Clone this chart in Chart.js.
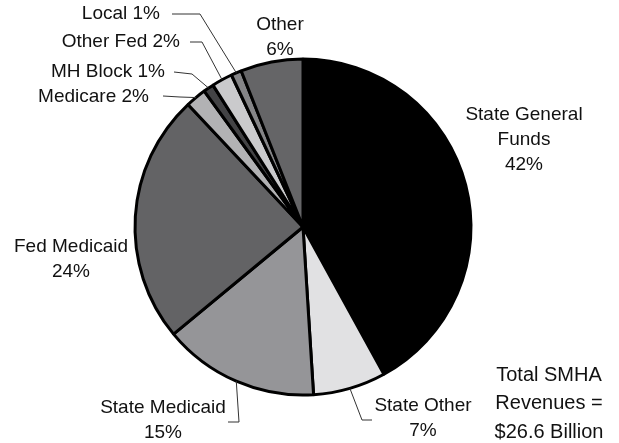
<!DOCTYPE html>
<html>
<head>
<meta charset="utf-8">
<script src="https://cdn.jsdelivr.net/npm/chart.js@4.4.1/dist/chart.umd.min.js"></script>
<style>
  html, body { margin: 0; padding: 0; background: #fff; }
  #wrap { width: 619px; height: 443px; position: relative; }
</style>
</head>
<body>
<div id="wrap"><canvas id="chart-smha-revenues"></canvas></div>
<script>
// SMHA revenue sources, percent of total, clockwise from 12 o'clock
var sources = ['State General Funds', 'State Other', 'State Medicaid', 'Fed Medicaid',
               'Medicare', 'MH Block', 'Other Fed', 'Local', 'Other'];
var shares = [42, 7, 15, 24, 2, 1, 2, 1, 6];
// how each name is printed (\n = line break)
var names = ['State General\nFunds', 'State Other', 'State Medicaid', 'Fed Medicaid',
             'Medicare', 'MH Block', 'Other Fed', 'Local', 'Other'];
var totalNote = ['Total SMHA', 'Revenues =', '$26.6 Billion'];

var fills = ['#000000', '#e1e1e3', '#959598', '#636365', '#b2b2b4',
             '#434345', '#cacacc', '#858587', '#656567'];

// label placement: stacked labels are centred with the percent on its own line,
// inline labels are right aligned; leader = elbow points from text towards the slice
var callouts = [
    { x: 524, y: 115, mode: 'stack' },
    { x: 423, y: 406, mode: 'stack', leader: [[372, 420], [362, 420]] },
    { x: 163, y: 408, mode: 'stack', leader: [[228, 422], [239, 422]] },
    { x: 71,  y: 247, mode: 'stack' },
    { x: 149, y: 97,  mode: 'inline', leader: [[163, 96], [180, 97]] },
    { x: 165, y: 72,  mode: 'inline', leader: [[174, 72], [192, 74]] },
    { x: 180, y: 42,  mode: 'inline', leader: [[190, 42], [202, 42]] },
    { x: 160, y: 14,  mode: 'inline', leader: [[172, 14], [200, 14]] },
    { x: 280, y: 25,  mode: 'stack' }
];

var FONT = '19px "Liberation Sans", Arial, sans-serif';

var calloutPlugin = {
    id: 'callouts',
    afterDraw: function (chart) {
        var ctx = chart.ctx;
        var arcs = chart.getDatasetMeta(0).data;
        ctx.save();
        ctx.fillStyle = '#111';
        ctx.font = FONT;
        ctx.textBaseline = 'middle';
        callouts.forEach(function (c, i) {
            var pct = shares[i] + '%';
            if (c.mode === 'stack') {
                var lines = names[i].split('\n').concat([pct]);
                ctx.textAlign = 'center';
                lines.forEach(function (t, k) { ctx.fillText(t, c.x, c.y + k * 25); });
            } else {
                ctx.textAlign = 'right';
                ctx.fillText(names[i] + ' ' + pct, c.x, c.y);
            }
            if (c.leader) {
                var a = arcs[i];
                var mid = (a.startAngle + a.endAngle) / 2;
                var ex = a.x + Math.cos(mid) * a.outerRadius;
                var ey = a.y + Math.sin(mid) * a.outerRadius;
                ctx.beginPath();
                ctx.strokeStyle = '#333';
                ctx.lineWidth = 1;
                ctx.moveTo(c.leader[0][0], c.leader[0][1]);
                for (var k = 1; k < c.leader.length; k++) ctx.lineTo(c.leader[k][0], c.leader[k][1]);
                ctx.lineTo(ex, ey);
                ctx.stroke();
            }
        });
        // total box, bottom right
        ctx.font = '20px "Liberation Sans", Arial, sans-serif';
        ctx.textAlign = 'center';
        totalNote.forEach(function (t, k) { ctx.fillText(t, 549, 375 + k * 28.5); });
        ctx.restore();
    }
};

var ctx = document.getElementById('chart-smha-revenues');
new Chart(ctx, {
    type: 'pie',
    data: {
        labels: sources,
        datasets: [{
            data: shares,
            backgroundColor: fills,
            borderColor: '#000',
            borderWidth: 3
        }]
    },
    options: {
        responsive: true,
        maintainAspectRatio: false,
        animation: false,
        layout: { padding: { left: 100, right: 113, top: 57.5, bottom: 46.5 } },
        plugins: {
            legend: { display: false },
            tooltip: { enabled: false }
        }
    },
    plugins: [calloutPlugin]
});
</script>
</body>
</html>
